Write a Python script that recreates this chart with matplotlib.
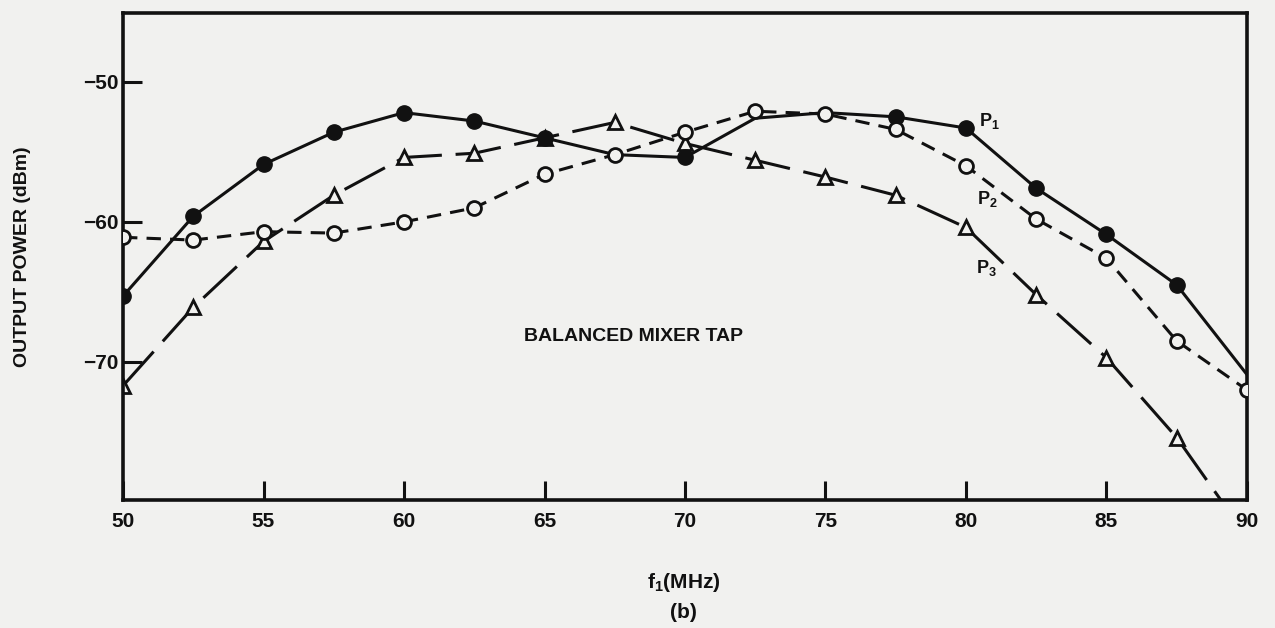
import matplotlib
matplotlib.use("Agg")
import matplotlib.pyplot as plt

# --------------------------------------------------------------------
# Données (dBm vs f1 en MHz)
# --------------------------------------------------------------------
freq = [50, 52.5, 55, 57.5, 60, 62.5, 65, 67.5, 70, 72.5, 75, 77.5, 80, 82.5, 85, 87.5, 90]

p1 = [-65.3, -59.6, -55.9, -53.6, -52.2, -52.8, -54.0, -55.2, -55.4, -52.6,
      -52.2, -52.5, -53.3, -57.6, -60.9, -64.5, -70.9]
p1_marked = [0, 1, 2, 3, 4, 5, 6, 8, 11, 12, 13, 14, 15]

p2 = [-61.1, -61.3, -60.7, -60.8, -60.0, -59.0, -56.6, -55.2, -53.6, -52.1,
      -52.3, -53.4, -56.0, -59.8, -62.6, -68.5, -72.0]

p3 = [-71.7, -66.1, -61.4, -58.1, -55.4, -55.1, -54.0, -52.9, -54.4, -55.6,
      -56.8, -58.1, -60.4, -65.2, -69.7, -75.4, -82.5]

x_ticks = [50, 55, 60, 65, 70, 75, 80, 85, 90]
y_ticks = [-50, -60, -70]

curve_labels = ["P$_\\mathbf{1}$", "P$_\\mathbf{2}$", "P$_\\mathbf{3}$"]
label_x = [80.45, 80.4, 80.35]
label_y = [-52.8, -58.4, -63.3]

# --------------------------------------------------------------------
# Style
# --------------------------------------------------------------------
bg = "#f1f1ef"
ink = "#111111"
plt.rcParams["font.family"] = ["Liberation Sans", "DejaVu Sans"]
plt.rcParams["font.weight"] = "bold"
plt.rcParams["mathtext.fontset"] = "custom"
plt.rcParams["mathtext.rm"] = "Liberation Sans:bold"
plt.rcParams["mathtext.bf"] = "Liberation Sans:bold"
plt.rcParams["mathtext.it"] = "Liberation Sans:bold"

fig = plt.figure(figsize=(12.75, 6.28), dpi=100, facecolor=bg)
ax = fig.add_axes([0.0965, 0.204, 0.8815, 0.775], facecolor=bg)

lw = 2.2

ax.plot(freq, p1, color=ink, lw=lw, linestyle="-",
        marker="o", markersize=11, markerfacecolor=ink, markeredgecolor=ink,
        markevery=p1_marked, zorder=3)

ax.plot(freq, p2, color=ink, lw=lw, linestyle=(0, (4.7, 3.0)),
        marker="o", markersize=10, markerfacecolor=bg, markeredgecolor=ink,
        markeredgewidth=2, zorder=4)

ax.plot(freq, p3, color=ink, lw=lw, linestyle=(0, (15, 4.5)),
        marker="^", markersize=10, markerfacecolor=bg, markeredgecolor=ink,
        markeredgewidth=2, zorder=2)

# étiquettes des courbes
for lab, lx, ly in zip(curve_labels, label_x, label_y):
    ax.text(lx, ly, lab, fontsize=13, color=ink, ha="left", va="center")

ax.text(68.15, -68.2, "BALANCED MIXER TAP", fontsize=14, fontweight="bold",
        color=ink, ha="center", va="center")

# --------------------------------------------------------------------
# Axes
# --------------------------------------------------------------------
ax.set_xlim(50, 90)
ax.set_ylim(-79.85, -45.1)

ax.set_xticks(x_ticks)
ax.set_xticklabels([str(t) for t in x_ticks])
ax.set_yticks(y_ticks)

ax.tick_params(axis="both", direction="in", length=14, width=2.2,
               colors=ink, labelsize=15)
ax.tick_params(axis="x", pad=9)
ax.tick_params(axis="y", pad=3)

for sp in ax.spines.values():
    sp.set_linewidth(2.6)
    sp.set_color(ink)

ax.set_ylabel("OUTPUT POWER (dBm)", fontsize=14, fontweight="bold",
              color=ink, labelpad=48)
ax.yaxis.set_label_coords(-0.082, 0.5)

fig.text(0.536, 0.073, "f$_\\mathbf{1}$(MHz)", fontsize=15, color=ink,
         ha="center", va="center")
fig.text(0.536, 0.025, "(b)", fontsize=15, fontweight="bold", color=ink,
         ha="center", va="center")

fig.savefig("out.png", dpi=100, facecolor=bg)
